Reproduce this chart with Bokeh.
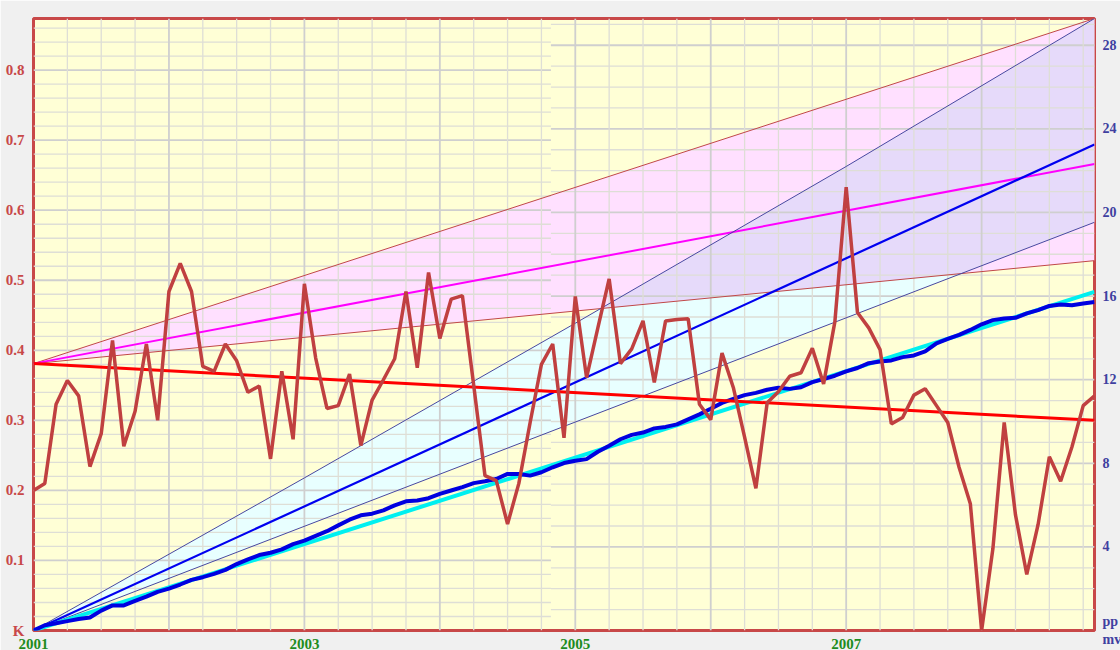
import numpy as np
from bokeh.plotting import figure
from bokeh.models import Range1d, LinearAxis, FixedTicker
from bokeh.embed import file_html
from bokeh.resources import INLINE

# ---------------- data ----------------
START_YEAR = 2001
temp_anomaly = [
    0.200, 0.210, 0.323, 0.357, 0.335, 0.234, 0.281, 0.414, 0.263, 0.313, 0.409, 0.300,
    0.484, 0.524, 0.484, 0.377, 0.370, 0.409, 0.385, 0.340, 0.349, 0.245, 0.370, 0.273,
    0.495, 0.389, 0.317, 0.321, 0.366, 0.264, 0.329, 0.358, 0.388, 0.484, 0.375, 0.511,
    0.417, 0.473, 0.478, 0.350, 0.221, 0.214, 0.152, 0.210, 0.297, 0.380, 0.409, 0.275,
    0.477, 0.361, 0.432, 0.502, 0.381, 0.402, 0.442, 0.354, 0.442, 0.444, 0.445, 0.323,
    0.301, 0.396, 0.347, 0.276, 0.203, 0.325, 0.341, 0.363, 0.368, 0.403, 0.352, 0.441,
    0.633, 0.454, 0.432, 0.401, 0.295, 0.304, 0.336, 0.345, 0.321, 0.297, 0.233, 0.181,
    0.000, 0.117, 0.297, 0.165, 0.080, 0.151, 0.248, 0.213, 0.262, 0.321, 0.335,
]
co2_rise_ppmv = [
    0.00, 0.25, 0.35, 0.45, 0.55, 0.62, 0.95, 1.20, 1.20, 1.42, 1.62, 1.85,
    2.00, 2.20, 2.42, 2.55, 2.71, 2.90, 3.18, 3.40, 3.61, 3.72, 3.88, 4.13,
    4.30, 4.53, 4.75, 5.03, 5.30, 5.51, 5.59, 5.75, 5.99, 6.18, 6.22, 6.33,
    6.54, 6.70, 6.86, 7.05, 7.14, 7.25, 7.49, 7.49, 7.41, 7.57, 7.81, 8.01,
    8.12, 8.20, 8.55, 8.84, 9.15, 9.36, 9.47, 9.67, 9.74, 9.86, 10.10, 10.34,
    10.61, 10.89, 11.08, 11.26, 11.37, 11.52, 11.61, 11.56, 11.64, 11.88, 12.03, 12.19,
    12.40, 12.56, 12.79, 12.87, 12.92, 13.08, 13.16, 13.35, 13.74, 13.95, 14.14, 14.38,
    14.65, 14.85, 14.93, 14.96, 15.17, 15.33, 15.53, 15.60, 15.56, 15.64, 15.72,
]

# trend / projection lines (values at start and end of the period)
temp_trend = [0.381, 0.300]
temp_fan_upper = [0.381, 0.8737]
temp_fan_mid = [0.381, 0.666]
temp_fan_lower = [0.381, 0.528]
co2_fan_upper_years = [2001, 2003, 2005, 2007, 2008.8333]
co2_fan_upper = [0.0, 7.3, 14.7, 22.2, 29.28]
co2_fan_mid = [0.0, 23.25]
co2_fan_lower = [0.0, 19.53]
co2_trend = [0.0, 16.2]

left_ticks = [0.0, 0.1, 0.2, 0.3, 0.4, 0.5, 0.6, 0.7, 0.8]
left_labels = ["K", "0.1", "0.2", "0.3", "0.4", "0.5", "0.6", "0.7", "0.8"]
right_ticks = [0, 4, 8, 12, 16, 20, 24, 28]
right_labels = ["pp\nmv", "4", "8", "12", "16", "20", "24", "28"]
year_ticks = [2001, 2003, 2005, 2007]

# ---------------- geometry ----------------
n = len(temp_anomaly)
x = START_YEAR + np.arange(n) / 12.0
X0, X1 = float(x[0]), float(x[-1])
Y_TOP = 0.8737
R_TOP = 29.28
K = Y_TOP / R_TOP
GRID_SPLIT = 2004.82
ends = [X0, X1]

p = figure(frame_width=1061, frame_height=612,
           x_range=Range1d(X0, X1), y_range=Range1d(0, Y_TOP),
           output_backend="svg", toolbar_location=None,
           min_border_left=33, min_border_top=18, min_border_right=22, min_border_bottom=20)
p.extra_y_ranges = {"ppmv": Range1d(0, R_TOP)}
p.background_fill_color = "#FFFFD6"
p.border_fill_color = "#F0F0F0"
p.outline_line_color = "#C84848"
p.outline_line_width = 3
p.xgrid.visible = False
p.ygrid.visible = False

# ---------------- fills ----------------
xs = np.linspace(X0, X1, 800)
pu = np.interp(xs, ends, temp_fan_upper)
pl = np.interp(xs, ends, temp_fan_lower)
bu = np.interp(xs, co2_fan_upper_years, co2_fan_upper)
bl = np.interp(xs, ends, co2_fan_lower)
p.varea(x=xs, y1=pl, y2=pu, fill_color="#FFE0FF")
p.varea(x=xs, y1=bl, y2=bu, fill_color="#E8FFFF", y_range_name="ppmv")
o1 = np.maximum(pl, bl * K)
o2 = np.minimum(pu, bu * K)
o2 = np.where(o2 > o1, o2, o1)
p.varea(x=xs, y1=o1, y2=o2, fill_color="#E6DAFA")

# ---------------- grid ----------------
gl = np.round(np.arange(0.02, Y_TOP, 0.02), 2)
gl_major = np.isclose((gl * 10) % 1, 0) | np.isclose((gl * 10) % 1, 1)
for major, col, w in [(False, "#DEDED6", 1.3), (True, "#CFCFCF", 1.8)]:
    sel = gl[gl_major == major]
    p.segment(x0=[X0] * len(sel), x1=[GRID_SPLIT] * len(sel), y0=sel, y1=sel,
              line_color=col, line_width=w)
gr = np.arange(1, int(R_TOP) + 1)
for major, col, w in [(False, "#DEDED6", 1.3), (True, "#CFCFCF", 1.8)]:
    sel = gr[(gr % 4 == 0) == major]
    p.segment(x0=[GRID_SPLIT] * len(sel), x1=[X1] * len(sel), y0=sel, y1=sel,
              line_color=col, line_width=w, y_range_name="ppmv")
gv = np.arange(2001.25, X1, 0.25)
gv_major = np.isclose(gv % 1, 0)
for major, col, w in [(False, "#DEDED6", 1.3), (True, "#CFCFCF", 1.8)]:
    sel = gv[gv_major == major]
    p.segment(x0=sel, x1=sel, y0=[0] * len(sel), y1=[Y_TOP] * len(sel),
              line_color=col, line_width=w)

# ---------------- lines ----------------
p.line(ends, temp_fan_upper, line_color="#C04848", line_width=1)
p.line(ends, temp_fan_lower, line_color="#C04848", line_width=1)
p.line(ends, temp_fan_mid, line_color="#FF00FF", line_width=2)
p.line(co2_fan_upper_years, co2_fan_upper, line_color="#4848A0", line_width=1, y_range_name="ppmv")
p.line(ends, co2_fan_lower, line_color="#4848A0", line_width=1, y_range_name="ppmv")
p.line(ends, co2_fan_mid, line_color="#0000F0", line_width=2.2, y_range_name="ppmv")
p.line(ends, co2_trend, line_color="#00F0F0", line_width=4, y_range_name="ppmv")
p.line(x, co2_rise_ppmv, line_color="#0000E0", line_width=4, y_range_name="ppmv")
p.line(ends, temp_trend, line_color="#FF0000", line_width=3)
p.line(x, temp_anomaly, line_color="#C04040", line_width=3.5)

# ---------------- axes ----------------
def style_axis(ax, color, size="15px", standoff=3):
    ax.axis_line_color = None
    ax.major_tick_line_color = None
    ax.minor_tick_line_color = None
    ax.major_label_text_font = "Liberation Serif"
    ax.major_label_text_font_style = "bold"
    ax.major_label_text_font_size = size
    ax.major_label_text_color = color
    ax.major_label_standoff = standoff

p.yaxis.ticker = FixedTicker(ticks=left_ticks)
p.yaxis.major_label_overrides = {t: l for t, l in zip(left_ticks, left_labels)}
style_axis(p.yaxis[0], "#C84848")

p.xaxis.ticker = FixedTicker(ticks=year_ticks)
p.xaxis.major_label_overrides = {t: str(t) for t in year_ticks}
style_axis(p.xaxis[0], "#1E8C1E", standoff=2)

ra = LinearAxis(y_range_name="ppmv", ticker=FixedTicker(ticks=right_ticks),
                major_label_overrides={t: l for t, l in zip(right_ticks, right_labels)})
style_axis(ra, "#4040A0", size="14px", standoff=2)
p.add_layout(ra, "right")

open("out.html", "w").write(file_html(p, INLINE))
